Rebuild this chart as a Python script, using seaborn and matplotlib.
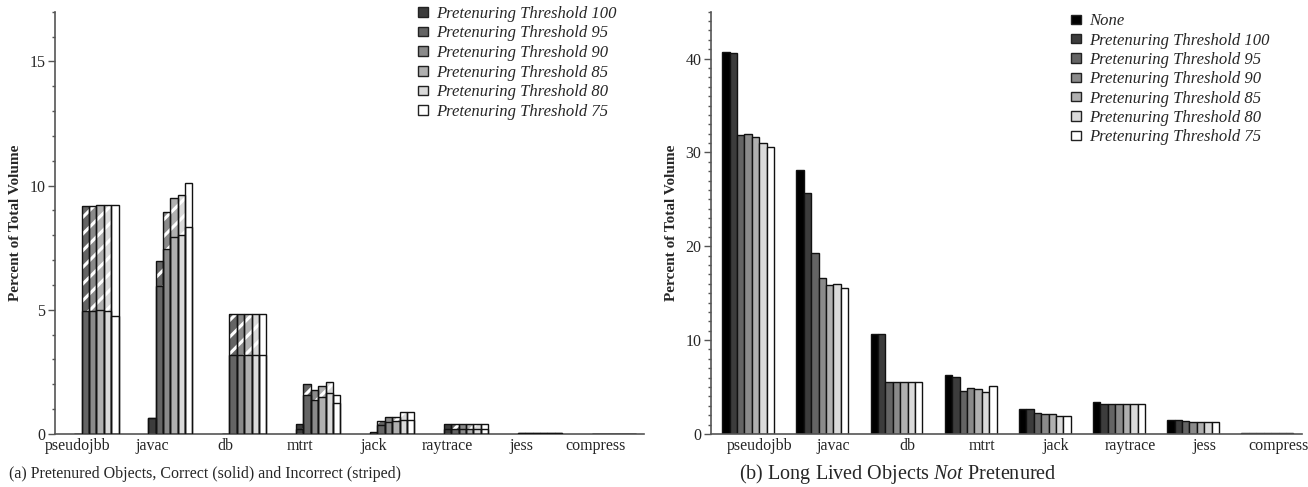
import matplotlib.pyplot as plt
import matplotlib.ticker as mtick
from matplotlib.patches import Patch, Rectangle
import numpy as np
import pandas as pd
import seaborn as sns

benchmarks = ["pseudojbb", "javac", "db", "mtrt", "jack", "raytrace", "jess", "compress"]

# (a) pretenured volume, correct (solid) part and total (solid + striped)
left_levels = ["100", "95", "90", "85", "80", "75"]
left_correct = {
    "100": [0.0, 0.65, 0.0, 0.20, 0.03, 0.19, 0.02, 0.01],
    "95": [4.95, 5.97, 3.19, 1.57, 0.35, 0.19, 0.02, 0.01],
    "90": [4.95, 7.46, 3.19, 1.38, 0.48, 0.19, 0.02, 0.01],
    "85": [5.00, 7.92, 3.19, 1.48, 0.50, 0.19, 0.03, 0.01],
    "80": [4.95, 8.02, 3.19, 1.64, 0.56, 0.19, 0.04, 0.01],
    "75": [4.76, 8.35, 3.19, 1.24, 0.56, 0.19, 0.04, 0.01],
}
left_total = {
    "100": [0.0, 0.65, 0.0, 0.41, 0.07, 0.39, 0.02, 0.01],
    "95": [9.19, 6.97, 4.83, 2.02, 0.51, 0.39, 0.02, 0.01],
    "90": [9.19, 8.95, 4.83, 1.75, 0.67, 0.39, 0.03, 0.01],
    "85": [9.22, 9.50, 4.83, 1.94, 0.67, 0.39, 0.04, 0.01],
    "80": [9.22, 9.60, 4.83, 2.10, 0.89, 0.39, 0.05, 0.01],
    "75": [9.22, 10.10, 4.83, 1.57, 0.89, 0.39, 0.05, 0.01],
}

# (b) long lived objects not pretenured
right_levels = ["None", "100", "95", "90", "85", "80", "75"]
right_values = {
    "None": [40.7, 28.1, 10.6, 6.32, 2.67, 3.37, 1.50, 0.05],
    "100": [40.6, 25.7, 10.6, 6.04, 2.65, 3.16, 1.50, 0.05],
    "95": [31.84, 19.26, 5.5, 4.60, 2.24, 3.16, 1.42, 0.05],
    "90": [31.95, 16.6, 5.5, 4.90, 2.10, 3.16, 1.31, 0.05],
    "85": [31.66, 15.9, 5.5, 4.80, 2.10, 3.16, 1.31, 0.05],
    "80": [31.0, 16.0, 5.5, 4.48, 1.88, 3.16, 1.31, 0.05],
    "75": [30.56, 15.5, 5.5, 5.12, 1.88, 3.16, 1.31, 0.05],
}

grays = {"None": "#000000", "100": "#3c3c3c", "95": "#646464", "90": "#8a8a8a",
         "85": "#b0b0b0", "80": "#dadada", "75": "#ffffff"}

sns.set_style("ticks")
plt.rcParams["font.family"] = ["Liberation Serif", "DejaVu Serif"]
plt.rcParams["mathtext.fontset"] = "custom"
plt.rcParams["mathtext.rm"] = "Liberation Serif"
plt.rcParams["mathtext.it"] = "Liberation Serif:italic"
plt.rcParams["hatch.linewidth"] = 2.2

left_df = pd.DataFrame([
    {"bench": b, "thr": t, "correct": left_correct[t][i], "total": left_total[t][i]}
    for t in left_levels for i, b in enumerate(benchmarks)
])
right_df = pd.DataFrame([
    {"bench": b, "thr": t, "value": right_values[t][i]}
    for t in right_levels for i, b in enumerate(benchmarks)
])

fig = plt.figure(figsize=(13.08, 4.87), dpi=100)
ax1 = fig.add_axes([0.042, 0.109, 0.450, 0.867])
ax2 = fig.add_axes([0.5436, 0.109, 0.452, 0.867])

# left: totals with stripes first, then the solid correct part on top
sns.barplot(data=left_df, x="bench", y="total", hue="thr", order=benchmarks,
            hue_order=left_levels, palette=grays, width=0.6, gap=0,
            linewidth=0, errorbar=None, legend=False, ax=ax1)
for p in list(ax1.patches):
    p.set_hatch("//")
    p.set_edgecolor("white")
    p.set_linewidth(0)
    ax1.add_patch(Rectangle(p.get_xy(), p.get_width(), p.get_height(), fill=False,
                            edgecolor="#111111", linewidth=1.0, zorder=4))
sns.barplot(data=left_df, x="bench", y="correct", hue="thr", order=benchmarks,
            hue_order=left_levels, palette=grays, width=0.6, gap=0,
            edgecolor="#111111", linewidth=1.0, errorbar=None, legend=False, ax=ax1)

sns.barplot(data=right_df, x="bench", y="value", hue="thr", order=benchmarks,
            hue_order=right_levels, palette=grays, width=0.7, gap=0,
            edgecolor="#111111", linewidth=1.0, errorbar=None, legend=False, ax=ax2)

for ax, ymax, major, off, xlim in [(ax1, 17, 5, -0.25, (-0.56, 7.4)),
                                   (ax2, 45, 10, 0.15, (-0.5, 7.47))]:
    ax.set_ylim(0, ymax)
    ax.set_xlim(*xlim)
    ax.yaxis.set_major_locator(mtick.MultipleLocator(major))
    ax.yaxis.set_minor_locator(mtick.MultipleLocator(1))
    ax.set_xticks(np.arange(len(benchmarks)) + off)
    ax.set_xticklabels(benchmarks, fontsize=11.5)
    ax.tick_params(axis="x", length=0, pad=3)
    ax.tick_params(axis="y", which="major", length=5, width=1, color="#555555",
                   labelsize=11.5, pad=2)
    ax.tick_params(axis="y", which="minor", length=2.5, width=1, color="#555555")
    ax.set_xlabel("")
    ax.set_ylabel("Percent of Total Volume", fontsize=11, fontweight="bold", labelpad=5)
    sns.despine(ax=ax)
    for s in ["left", "bottom"]:
        ax.spines[s].set_color("#555555")
        ax.spines[s].set_linewidth(1.2)

leg_font = {"family": "Liberation Serif", "style": "italic", "size": 12}
h1 = [Patch(facecolor=grays[t], edgecolor="#222222", label=f"Pretenuring Threshold {t}")
      for t in left_levels]
ax1.legend(handles=h1, loc="upper left", bbox_to_anchor=(0.606, 1.03), frameon=False,
           prop=leg_font, handlelength=0.6, handleheight=0.5, handletextpad=0.45,
           labelspacing=0.22, borderaxespad=0)
h2 = [Patch(facecolor=grays[t], edgecolor="#222222",
            label="None" if t == "None" else f"Pretenuring Threshold {t}")
      for t in right_levels]
ax2.legend(handles=h2, loc="upper left", bbox_to_anchor=(0.598, 1.012), frameon=False,
           prop=leg_font, handlelength=0.6, handleheight=0.5, handletextpad=0.45,
           labelspacing=0.2, borderaxespad=0)

fig.text(0.157, 0.027, "(a) Pretenured Objects, Correct (solid) and Incorrect (striped)",
         ha="center", va="center", fontsize=11.5)
fig.text(0.6865, 0.027, r"(b) Long Lived Objects $\mathit{Not}$ Pretenured",
         ha="center", va="center", fontsize=14.5)

fig.savefig("out.png", dpi=100)
